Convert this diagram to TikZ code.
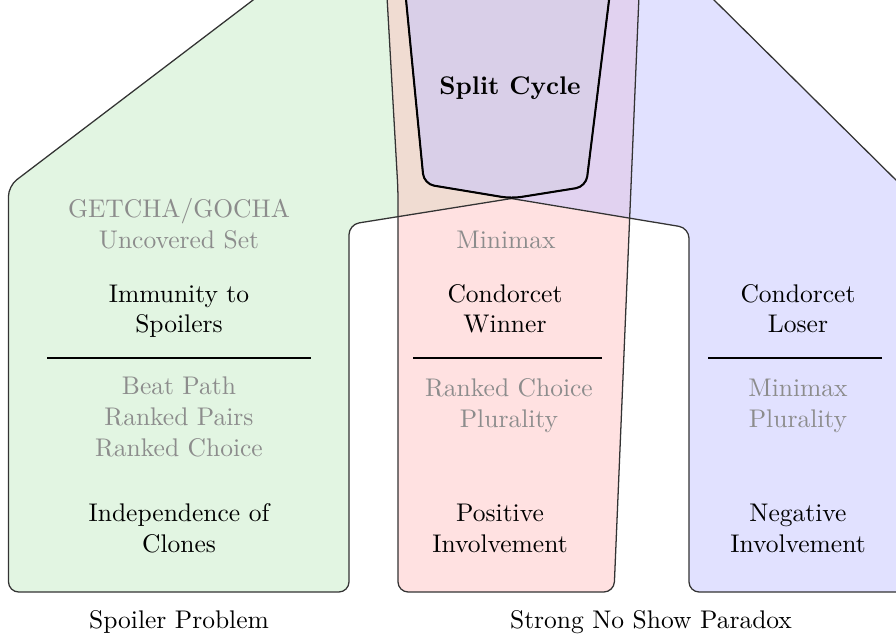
\documentclass[tikz,border=0pt]{standalone}

\definecolor{spoilgreen}{RGB}{197,235,197}
\definecolor{posred}{RGB}{255,195,195}
\definecolor{negblue}{RGB}{195,195,255}

% the three criteria regions (pixel grid, y downwards)
\def\spoilregion{(8.5,592) -- (349,592) -- (349,224.5) -- (586,186.6) -- (621.4,-100) -- (384.6,-100) -- (8.5,186) -- cycle}
\def\posregion{(398,592) -- (614,592) -- (643,-100) -- (381.5,-100) -- (398,190) -- cycle}
\def\negregion{(689,592) -- (1000,592) -- (1000,283) -- (613,-100) -- (396.3,-100) -- (424,184) -- (689,228) -- cycle}

\tikzset{
  region/.style={fill opacity=0.5, rounded corners=4pt},
  rim/.style={draw=black!80, line width=0.5pt, rounded corners=4pt},
  prop/.style={align=center, anchor=base},
  meth/.style={prop, text=black!45},
  bar/.style={thick}
}

\begin{document}
\begin{tikzpicture}[x=0.392pt, y=-0.392pt]
  \useasboundingbox (0,0) rectangle (896,638);

  \begin{scope}
    \clip (0,0) rectangle (896,638);
    \fill[spoilgreen, region] \spoilregion;
    \fill[posred, region] \posregion;
    \fill[negblue, region] \negregion;
    \path[rim] \spoilregion;
    \path[rim] \posregion;
    \path[rim] \negregion;
    % Split Cycle = all three
    \draw[thick, rounded corners=4pt] (396.3,-100) -- (424,184) -- (511.5,198.5) -- (586,186.6) -- (621.4,-100);
  \end{scope}

  \node[prop, font=\bfseries] (split) at (510,95) {Split Cycle};

  % spoiler problem (base = last line)
  \node[meth] (getcha) at (179,248) {GETCHA/GOCHA\\Uncovered Set};
  \node[prop] (spoilers) at (179,333) {Immunity to\\Spoilers};
  \draw[bar] (47,358) -- (311,358);
  \node[meth] (beatpath) at (179,456) {Beat Path\\Ranked Pairs\\Ranked Choice};
  \node[prop] (clones) at (179,552) {Independence of\\Clones};
  \node[prop] (spoilprob) at (179,628) {Spoiler Problem};

  % positive involvement
  \node[meth] (minimax) at (506,248) {Minimax};
  \node[prop] (winner) at (505,333) {Condorcet\\Winner};
  \draw[bar] (413,358) -- (602,358);
  \node[meth] (rcplur) at (509,427) {Ranked Choice\\Plurality};
  \node[prop] (posinv) at (500,552) {Positive\\Involvement};

  % negative involvement
  \node[prop] (loser) at (798,333) {Condorcet\\Loser};
  \draw[bar] (708,358) -- (882,358);
  \node[meth] (mmplur) at (798,427) {Minimax\\Plurality};
  \node[prop] (neginv) at (798,552) {Negative\\Involvement};
  \node[prop] (noshow) at (651,628) {Strong No Show Paradox};
\end{tikzpicture}
\end{document}
